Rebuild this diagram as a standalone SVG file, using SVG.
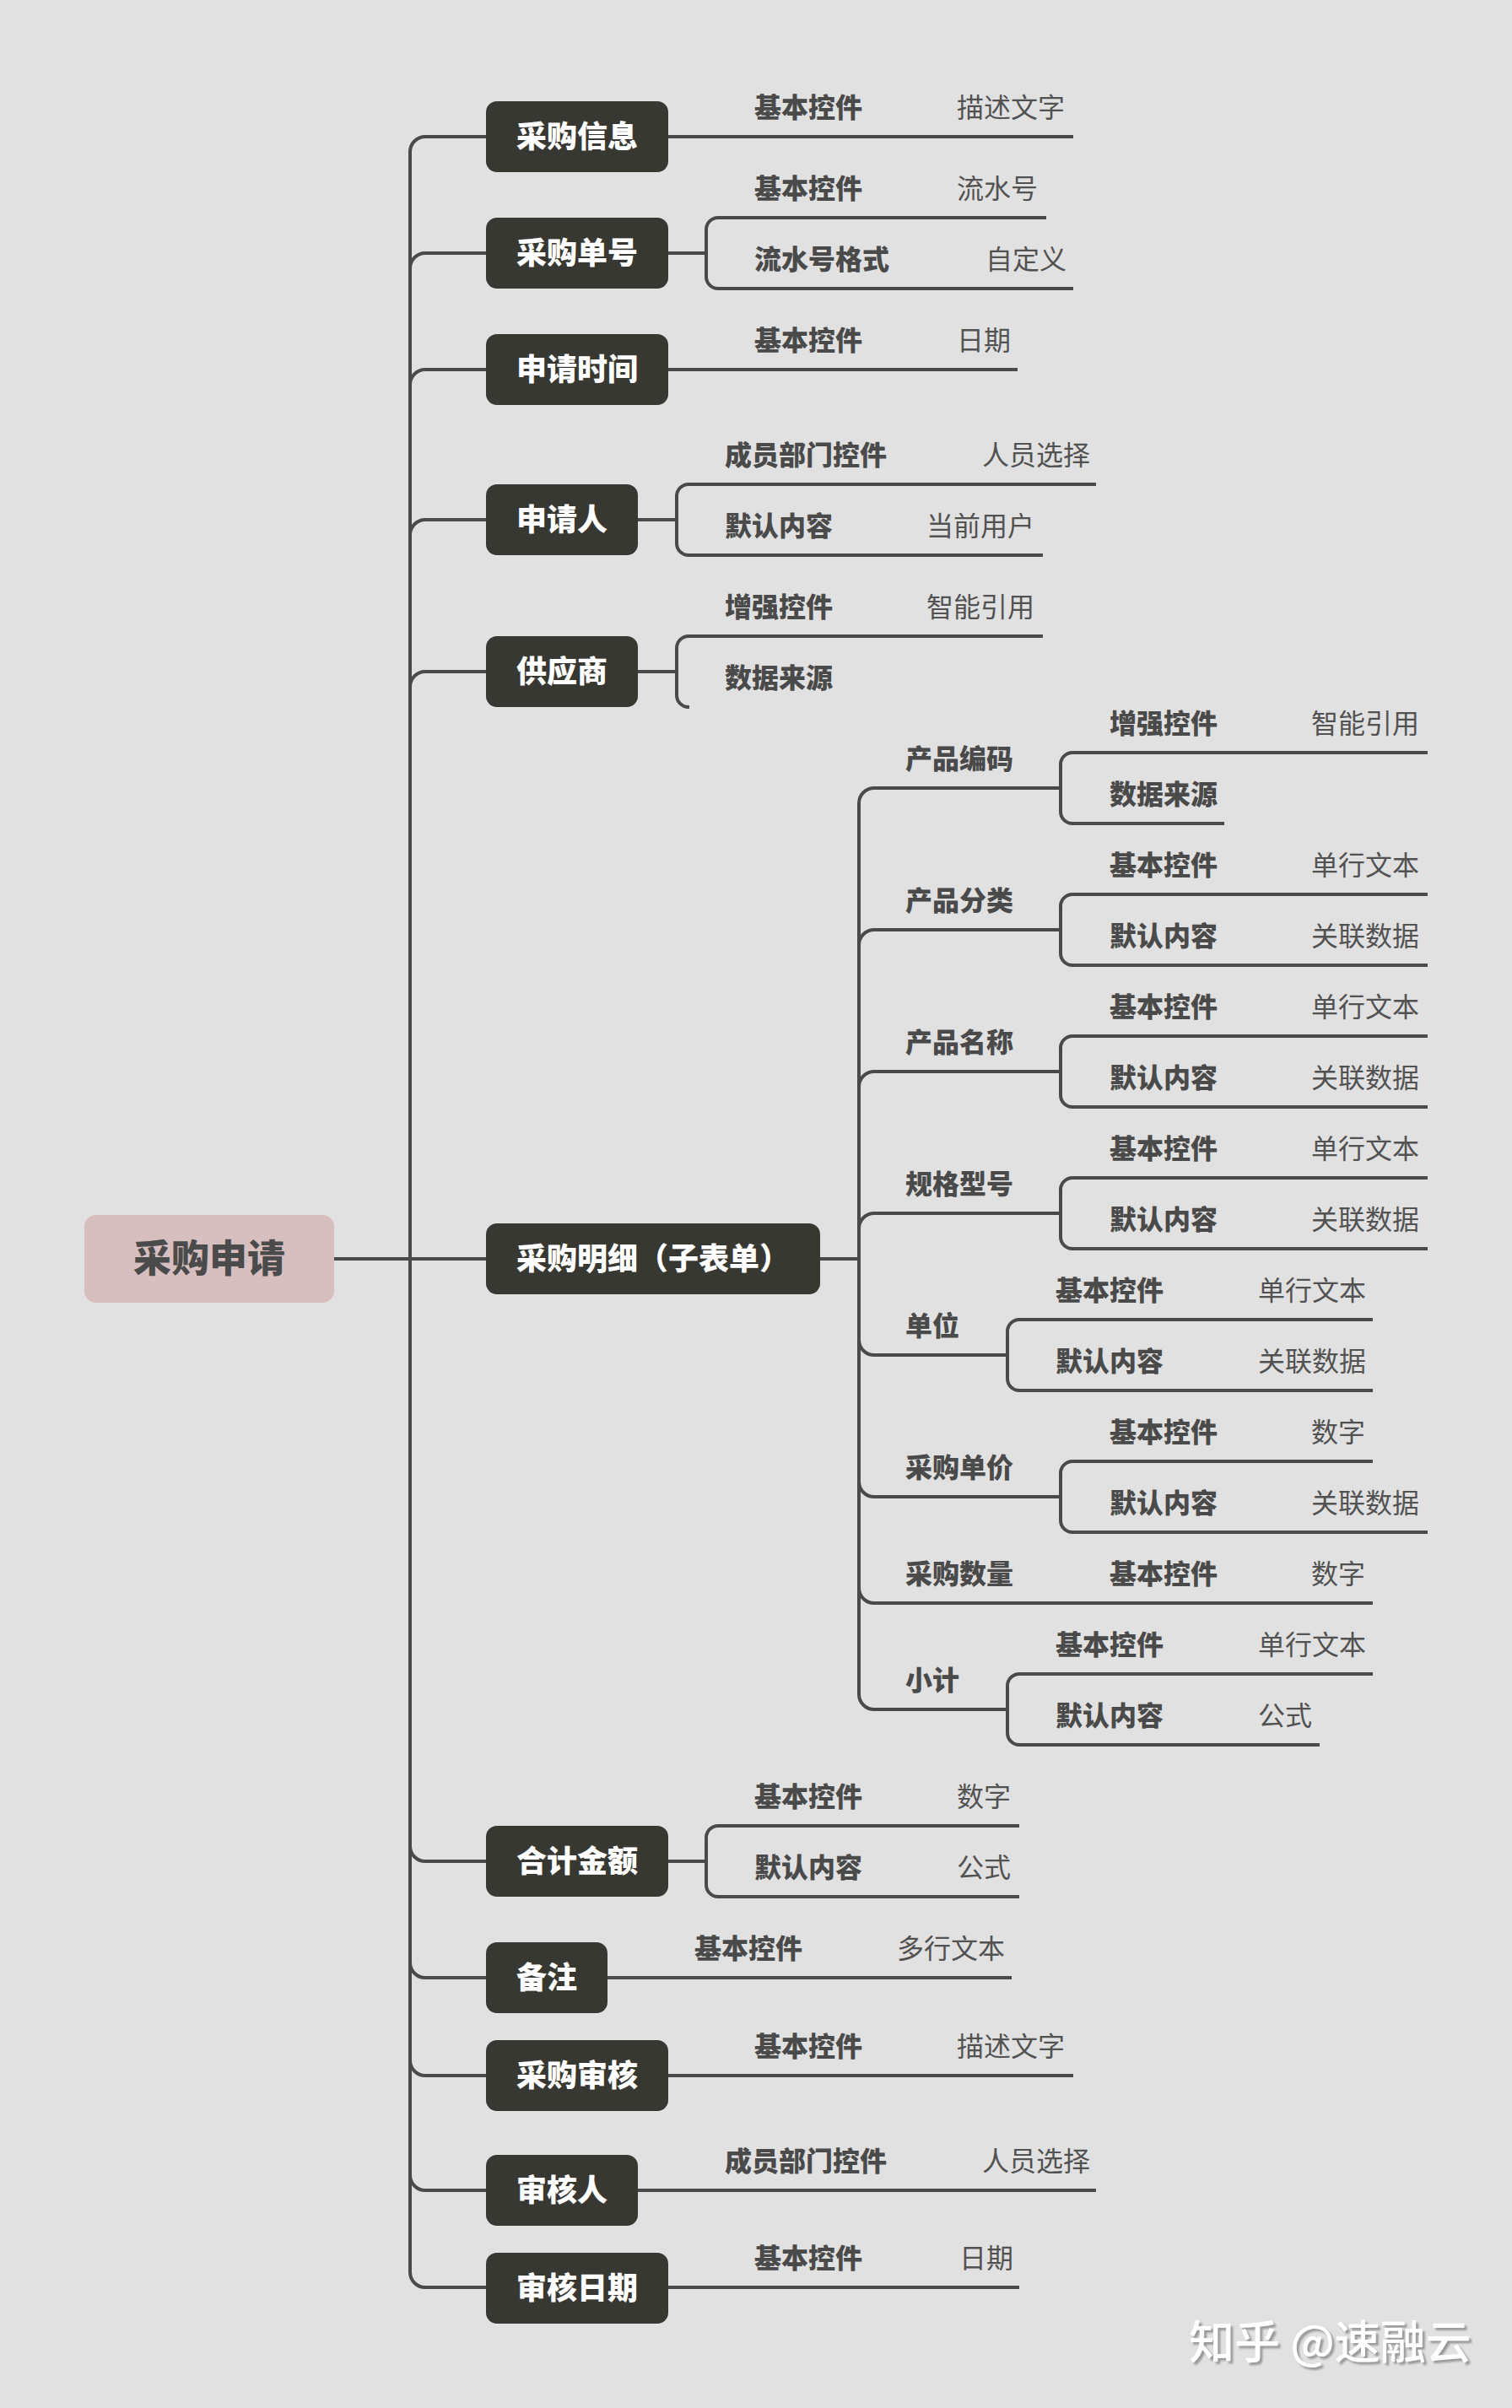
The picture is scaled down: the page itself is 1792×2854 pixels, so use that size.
<svg xmlns="http://www.w3.org/2000/svg" width="1792" height="2854" viewBox="0 0 1792 2854">
<defs>
<style>
.c{fill:none;stroke:#4a4a4d;stroke-width:4;stroke-linecap:butt}
.node rect{fill:#383832}
.node text{fill:#ffffff;font-family:"Noto Sans CJK SC","Noto Sans",sans-serif;font-size:36px;font-weight:900;text-anchor:middle;dominant-baseline:central}
.lb{fill:#4a4a4a;font-family:"Noto Sans CJK SC","Noto Sans",sans-serif;font-size:32px;font-weight:900;dominant-baseline:central}
.vl{fill:#525252;font-family:"Noto Sans CJK SC","Noto Sans",sans-serif;font-size:32px;font-weight:normal;dominant-baseline:central}
</style>
<filter id="sh" x="-10%" y="-30%" width="130%" height="160%">
<feDropShadow dx="3" dy="3" stdDeviation="0.8" flood-color="#9a9a9a" flood-opacity="1"/>
</filter>
</defs>
<rect x="0" y="0" width="1792" height="2854" fill="#e1e1e1"/>

<g id="connectors">
<path class="c" d="M396 1492 H577"/>
<path class="c" d="M486 1492 V180 A18 18 0 0 1 504 162 H577"/>
<path class="c" d="M486 1492 V318 A18 18 0 0 1 504 300 H577"/>
<path class="c" d="M486 1492 V456 A18 18 0 0 1 504 438 H577"/>
<path class="c" d="M486 1492 V634 A18 18 0 0 1 504 616 H577"/>
<path class="c" d="M486 1492 V814 A18 18 0 0 1 504 796 H577"/>
<path class="c" d="M486 1492 V2188 A18 18 0 0 0 504 2206 H577"/>
<path class="c" d="M486 1492 V2326 A18 18 0 0 0 504 2344 H577"/>
<path class="c" d="M486 1492 V2442 A18 18 0 0 0 504 2460 H577"/>
<path class="c" d="M486 1492 V2578 A18 18 0 0 0 504 2596 H577"/>
<path class="c" d="M486 1492 V2693 A18 18 0 0 0 504 2711 H577"/>

<path class="c" d="M791 162 H1272"/>
<path class="c" d="M791 300 H837 M837 300 V272 A14 14 0 0 1 851 258 H1240 M837 300 V328 A14 14 0 0 0 851 342 H1272"/>
<path class="c" d="M791 438 H1206"/>
<path class="c" d="M755 616 H802 M802 616 V588 A14 14 0 0 1 816 574 H1299 M802 616 V644 A14 14 0 0 0 816 658 H1236"/>
<path class="c" d="M755 796 H802 M802 796 V768 A14 14 0 0 1 816 754 H1236 M802 796 V824 A14 14 0 0 0 816 838 H817"/>
<path class="c" d="M972 1492 H1018"/>
<path class="c" d="M1018 1492 V952 A18 18 0 0 1 1036 934 H1257"/>
<path class="c" d="M1018 1492 V1120 A18 18 0 0 1 1036 1102 H1257"/>
<path class="c" d="M1018 1492 V1288 A18 18 0 0 1 1036 1270 H1257"/>
<path class="c" d="M1018 1492 V1456 A18 18 0 0 1 1036 1438 H1257"/>
<path class="c" d="M1018 1492 V1588 A18 18 0 0 0 1036 1606 H1194"/>
<path class="c" d="M1018 1492 V1756 A18 18 0 0 0 1036 1774 H1257"/>
<path class="c" d="M1018 1492 V1882 A18 18 0 0 0 1036 1900 H1627"/>
<path class="c" d="M1018 1492 V2008 A18 18 0 0 0 1036 2026 H1194"/>
<path class="c" d="M1257 934 V906 A14 14 0 0 1 1271 892 H1692 M1257 934 V962 A14 14 0 0 0 1271 976 H1451"/>
<path class="c" d="M1257 1102 V1074 A14 14 0 0 1 1271 1060 H1692 M1257 1102 V1130 A14 14 0 0 0 1271 1144 H1692"/>
<path class="c" d="M1257 1270 V1242 A14 14 0 0 1 1271 1228 H1692 M1257 1270 V1298 A14 14 0 0 0 1271 1312 H1692"/>
<path class="c" d="M1257 1438 V1410 A14 14 0 0 1 1271 1396 H1692 M1257 1438 V1466 A14 14 0 0 0 1271 1480 H1692"/>
<path class="c" d="M1194 1606 V1578 A14 14 0 0 1 1208 1564 H1627 M1194 1606 V1634 A14 14 0 0 0 1208 1648 H1627"/>
<path class="c" d="M1257 1774 V1746 A14 14 0 0 1 1271 1732 H1627 M1257 1774 V1802 A14 14 0 0 0 1271 1816 H1692"/>
<path class="c" d="M1194 2026 V1998 A14 14 0 0 1 1208 1984 H1627 M1194 2026 V2054 A14 14 0 0 0 1208 2068 H1564"/>
<path class="c" d="M791 2206 H837 M837 2206 V2178 A14 14 0 0 1 851 2164 H1208 M837 2206 V2234 A14 14 0 0 0 851 2248 H1208"/>
<path class="c" d="M719 2344 H1199"/>
<path class="c" d="M791 2460 H1272"/>
<path class="c" d="M755 2596 H1299"/>
<path class="c" d="M791 2711 H1208"/>
</g>

<g id="root">
<rect x="100" y="1440" width="296" height="104" rx="14" fill="#d7bfbf"/>
<text x="248" y="1488" fill="#4b4b4b" font-family="Noto Sans CJK SC, Noto Sans, sans-serif" font-size="45" font-weight="900" text-anchor="middle" dominant-baseline="central">采购申请</text>
</g>

<g id="n-caigouxinxi" class="node"><rect x="576" y="120" width="216" height="84" rx="13"/><text x="684" y="159">采购信息</text></g>
<g id="n-caigoudanhao" class="node"><rect x="576" y="258" width="216" height="84" rx="13"/><text x="684" y="297">采购单号</text></g>
<g id="n-shenqingshijian" class="node"><rect x="576" y="396" width="216" height="84" rx="13"/><text x="684" y="435">申请时间</text></g>
<g id="n-shenqingren" class="node"><rect x="576" y="574" width="180" height="84" rx="13"/><text x="666" y="613">申请人</text></g>
<g id="n-gongyingshang" class="node"><rect x="576" y="754" width="180" height="84" rx="13"/><text x="666" y="793">供应商</text></g>
<g id="n-mingxi" class="node"><rect x="576" y="1450" width="396" height="84" rx="13"/><text x="774" y="1489">采购明细（子表单）</text></g>
<g id="n-heji" class="node"><rect x="576" y="2164" width="216" height="84" rx="13"/><text x="684" y="2203">合计金额</text></g>
<g id="n-beizhu" class="node"><rect x="576" y="2302" width="144" height="84" rx="13"/><text x="648" y="2341">备注</text></g>
<g id="n-shenhe" class="node"><rect x="576" y="2418" width="216" height="84" rx="13"/><text x="684" y="2457">采购审核</text></g>
<g id="n-shenheren" class="node"><rect x="576" y="2554" width="180" height="84" rx="13"/><text x="666" y="2593">审核人</text></g>
<g id="n-shenheriqi" class="node"><rect x="576" y="2670" width="216" height="84" rx="13"/><text x="684" y="2709">审核日期</text></g>

<g id="leaf-caigouxinxi"><text class="lb" x="894" y="125">基本控件</text><text class="vl" x="1134" y="125">描述文字</text></g>
<g id="leaf-caigoudanhao"><text class="lb" x="894" y="221">基本控件</text><text class="vl" x="1134" y="221">流水号</text><text class="lb" x="894" y="305">流水号格式</text><text class="vl" x="1168" y="305">自定义</text></g>
<g id="leaf-shenqingshijian"><text class="lb" x="894" y="401">基本控件</text><text class="vl" x="1134" y="401">日期</text></g>
<g id="leaf-shenqingren"><text class="lb" x="859" y="537">成员部门控件</text><text class="vl" x="1164" y="537">人员选择</text><text class="lb" x="859" y="621">默认内容</text><text class="vl" x="1098" y="621">当前用户</text></g>
<g id="leaf-gongyingshang"><text class="lb" x="859" y="717">增强控件</text><text class="vl" x="1098" y="717">智能引用</text><text class="lb" x="859" y="801">数据来源</text></g>

<g id="sub-chanpinbianma"><text class="lb" x="1073" y="897">产品编码</text><text class="lb" x="1315" y="855">增强控件</text><text class="vl" x="1554" y="855">智能引用</text><text class="lb" x="1315" y="939">数据来源</text></g>
<g id="sub-chanpinfenlei"><text class="lb" x="1073" y="1065">产品分类</text><text class="lb" x="1315" y="1023">基本控件</text><text class="vl" x="1554" y="1023">单行文本</text><text class="lb" x="1315" y="1107">默认内容</text><text class="vl" x="1554" y="1107">关联数据</text></g>
<g id="sub-chanpinmingcheng"><text class="lb" x="1073" y="1233">产品名称</text><text class="lb" x="1315" y="1191">基本控件</text><text class="vl" x="1554" y="1191">单行文本</text><text class="lb" x="1315" y="1275">默认内容</text><text class="vl" x="1554" y="1275">关联数据</text></g>
<g id="sub-guige"><text class="lb" x="1073" y="1401">规格型号</text><text class="lb" x="1315" y="1359">基本控件</text><text class="vl" x="1554" y="1359">单行文本</text><text class="lb" x="1315" y="1443">默认内容</text><text class="vl" x="1554" y="1443">关联数据</text></g>
<g id="sub-danwei"><text class="lb" x="1073" y="1569">单位</text><text class="lb" x="1251" y="1527">基本控件</text><text class="vl" x="1491" y="1527">单行文本</text><text class="lb" x="1251" y="1611">默认内容</text><text class="vl" x="1491" y="1611">关联数据</text></g>
<g id="sub-danjia"><text class="lb" x="1073" y="1737">采购单价</text><text class="lb" x="1315" y="1695">基本控件</text><text class="vl" x="1554" y="1695">数字</text><text class="lb" x="1315" y="1779">默认内容</text><text class="vl" x="1554" y="1779">关联数据</text></g>
<g id="sub-shuliang"><text class="lb" x="1073" y="1863">采购数量</text><text class="lb" x="1315" y="1863">基本控件</text><text class="vl" x="1554" y="1863">数字</text></g>
<g id="sub-xiaoji"><text class="lb" x="1073" y="1989">小计</text><text class="lb" x="1251" y="1947">基本控件</text><text class="vl" x="1491" y="1947">单行文本</text><text class="lb" x="1251" y="2031">默认内容</text><text class="vl" x="1491" y="2031">公式</text></g>

<g id="leaf-heji"><text class="lb" x="894" y="2127">基本控件</text><text class="vl" x="1134" y="2127">数字</text><text class="lb" x="894" y="2211">默认内容</text><text class="vl" x="1134" y="2211">公式</text></g>
<g id="leaf-beizhu"><text class="lb" x="823" y="2307">基本控件</text><text class="vl" x="1063" y="2307">多行文本</text></g>
<g id="leaf-shenhe"><text class="lb" x="894" y="2423">基本控件</text><text class="vl" x="1134" y="2423">描述文字</text></g>
<g id="leaf-shenheren"><text class="lb" x="859" y="2559">成员部门控件</text><text class="vl" x="1164" y="2559">人员选择</text></g>
<g id="leaf-shenheriqi"><text class="lb" x="894" y="2674">基本控件</text><text class="vl" x="1137" y="2674">日期</text></g>

<text x="1409" y="2796" fill="#ffffff" filter="url(#sh)" font-family="Noto Sans CJK SC, Noto Sans, sans-serif" font-size="54" font-weight="500">知乎 @速融云</text>
</svg>
